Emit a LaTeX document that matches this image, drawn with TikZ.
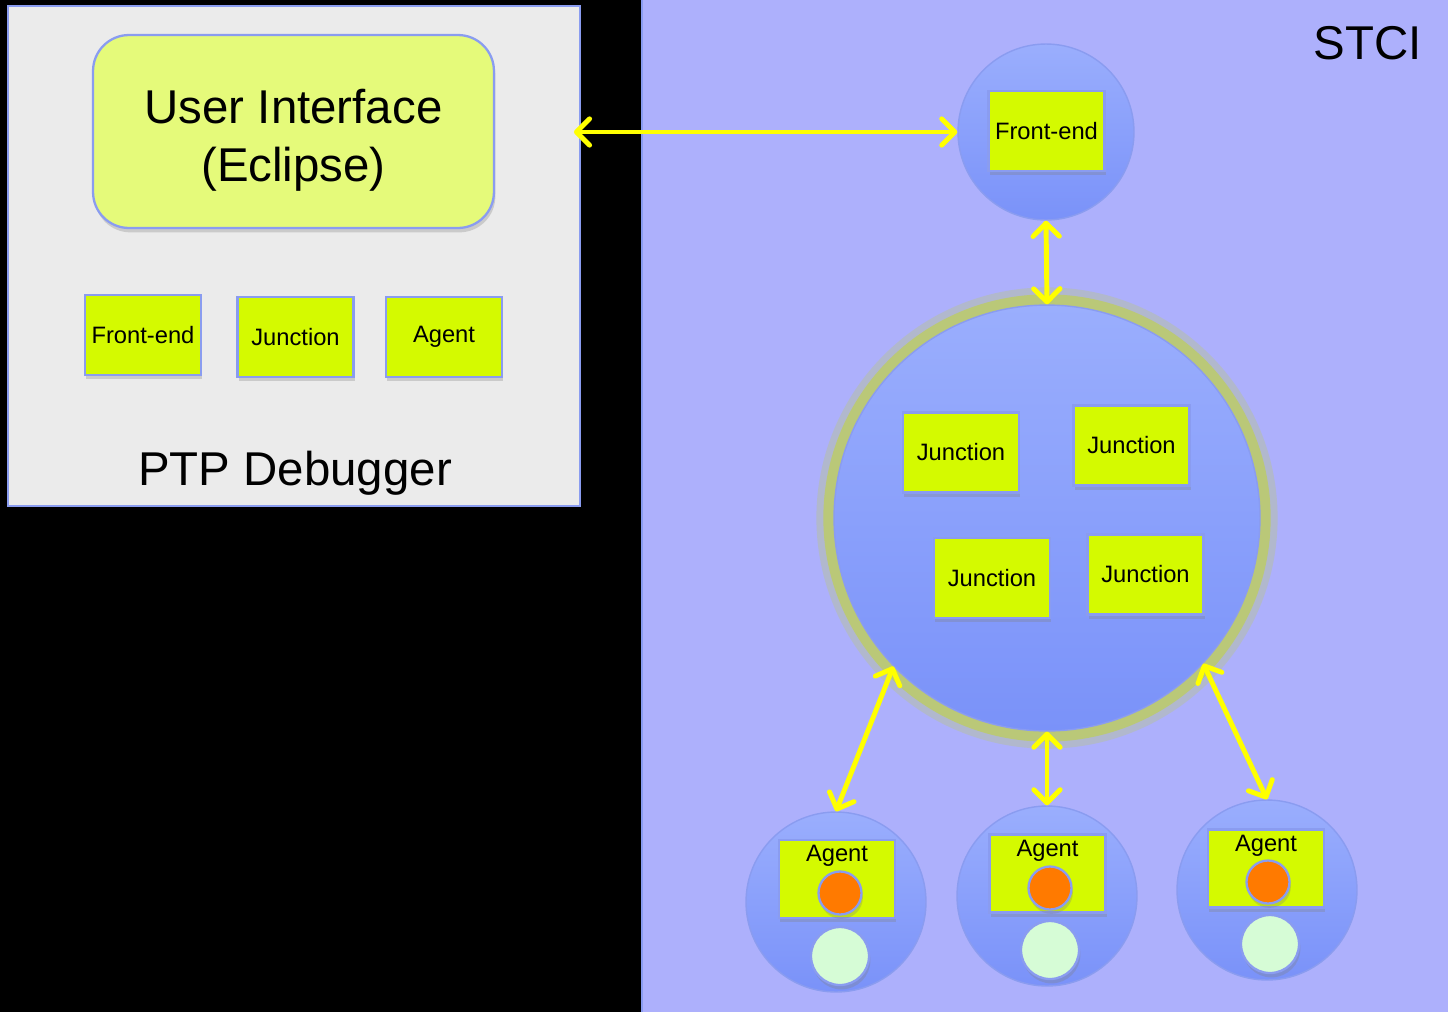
\documentclass[tikz,border=0pt]{standalone}
\usepackage{fontspec}
\setmainfont{Liberation Sans}
\usetikzlibrary{arrows.meta, shadows, positioning}
\definecolor{panelgray}{RGB}{235, 235, 235}
\definecolor{edgeblue}{RGB}{138, 156, 240}
\definecolor{stciblue}{RGB}{173, 176, 252}
\definecolor{uigreen}{RGB}{229, 250, 122}
\definecolor{boxgreen}{RGB}{212, 250, 0}
\definecolor{circtop}{RGB}{154, 174, 253}
\definecolor{circbot}{RGB}{122, 146, 249}
\definecolor{ringgreen}{RGB}{186, 200, 120}
\definecolor{procorange}{RGB}{255, 122, 0}
\definecolor{procmint}{RGB}{214, 252, 214}
\definecolor{linkyellow}{RGB}{255, 255, 0}

\tikzset{
  softshadow/.style={drop shadow={opacity=0.3, shadow xshift=0.8pt, shadow yshift=-2.5pt}},
  compbox/.style={draw=edgeblue, line width=1.3pt, fill=boxgreen, minimum width=2.32cm, minimum height=1.6cm, inner sep=1pt, font=\fontsize{13.5}{16}\selectfont, softshadow},
  hostcirc/.style={circle, draw=edgeblue, line width=0.8pt, top color=circtop, bottom color=circbot, inner sep=0pt},
  procdot/.style={circle, draw=edgeblue, line width=1.3pt, fill=procorange, minimum size=0.86cm, inner sep=0pt, softshadow},
  taskdot/.style={circle, draw=edgeblue, line width=1.3pt, fill=procmint, minimum size=1.16cm, inner sep=0pt, softshadow},
  biglabel/.style={font=\fontsize{27}{32}\selectfont},
  link/.style={draw=linkyellow, line width=2.8pt, <->, >={Straight Barb[length=7.5pt, width=15pt, round]}},
}

\begin{document}
\begin{tikzpicture}[x=0.02cm, y=-0.02cm]
  \fill[black] (0,0) rectangle (1448,1012);
  \useasboundingbox (0,0) rectangle (1448,1012);

  % PTP debugger side
  \node[draw=edgeblue, line width=1.2pt, fill=panelgray, minimum width=11.44cm, minimum height=10cm, inner sep=0pt] (ptp) at (294,256) {};
  \node[draw=edgeblue, line width=1.3pt, fill=uigreen, rounded corners=0.72cm, minimum width=8.02cm, minimum height=3.86cm, align=center, font=\fontsize{27}{33}\selectfont, text height=62pt, softshadow] (ui) at (293.5,131.5) {User Interface\\(Eclipse)};
  \node[compbox] (fe) at (143,335) {Front-end};
  \node[compbox] (jn) at (295.5,337) {Junction};
  \node[compbox] (ag) at (444,337) {Agent};
  \node[biglabel] (ptplabel) at (295,473) {PTP Debugger};

  % STCI side
  \node[fill=stciblue, minimum width=16.12cm, minimum height=20.24cm, inner sep=0pt] (stci) at (1045,506) {};
  \draw[edgeblue, line width=1.2pt] (stci.north west) -- (stci.south west);
  \node[biglabel] (stcilabel) at (1368,43) {STCI};

  % front-end host
  \node[hostcirc, minimum size=3.52cm] (fecirc) at (1046,132) {};
  \node[compbox] (febox) at (1046.5,131) {Front-end};

  % junction tree
  \draw[ringgreen, opacity=0.35, line width=11pt] (1047,518) circle [radius=4.42cm];
  \draw[ringgreen, line width=6.5pt] (1047,518) circle [radius=4.36cm];
  \node[hostcirc, minimum size=8.52cm] (jcirc) at (1047,518) {};
  \node[compbox] (j1) at (961,452.5) {Junction};
  \node[compbox] (j2) at (1131.5,445.5) {Junction};
  \node[compbox] (j3) at (992,578) {Junction};
  \node[compbox] (j4) at (1145.5,574.5) {Junction};

  % agent hosts
  \node[hostcirc, minimum size=3.6cm] (host1) at (836,902) {};
  \node[compbox, minimum height=1.56cm] (abox1) at (837,879) {};
  \node[anchor=north, inner sep=3.6pt, font=\fontsize{13.5}{16}\selectfont] (atext1) at (abox1.north) {Agent};
  \node[procdot] (proc1) at (840,893) {};
  \node[taskdot] (task1) at (840,956) {};

  \node[hostcirc, minimum size=3.6cm] (host2) at (1047,896) {};
  \node[compbox, minimum height=1.56cm] (abox2) at (1047.5,873.5) {};
  \node[anchor=north, inner sep=3.6pt, font=\fontsize{13.5}{16}\selectfont] (atext2) at (abox2.north) {Agent};
  \node[procdot] (proc2) at (1050,888) {};
  \node[taskdot] (task2) at (1050,950) {};

  \node[hostcirc, minimum size=3.6cm] (host3) at (1267,890) {};
  \node[compbox, minimum height=1.56cm] (abox3) at (1266,868.5) {};
  \node[anchor=north, inner sep=3.6pt, font=\fontsize{13.5}{16}\selectfont] (atext3) at (abox3.north) {Agent};
  \node[procdot] (proc3) at (1268,882) {};
  \node[taskdot] (task3) at (1270,944) {};

  % links
  \draw[link, shorten <=-4pt] (ptp.east |- fecirc) -- (fecirc.west);
  \draw[link] (fecirc.south) -- (jcirc.north);
  \draw[link] (jcirc.224) -- (host1.north);
  \draw[link] (jcirc.south) -- (host2.north);
  \draw[link] (jcirc.317) -- (host3.north);
\end{tikzpicture}
\end{document}
